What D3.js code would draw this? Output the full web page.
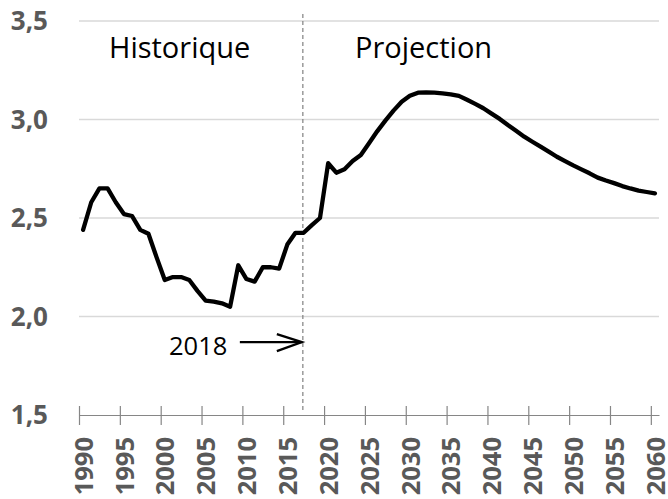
<!DOCTYPE html>
<html>
<head>
<meta charset="utf-8">
<script src="https://cdn.jsdelivr.net/npm/d3@7/dist/d3.min.js"></script>
<style>
    body { margin: 0; background: #fff; }
    svg text { font-family: "Open Sans", sans-serif; }
</style>
</head>
<body>
<div id="chart"></div>
<script>

// categories: one per year
const years = d3.range(1990, 2061);
const tickYears = [1990, 1995, 2000, 2005, 2010, 2015, 2020, 2025, 2030, 2035, 2040, 2045, 2050, 2055, 2060];
const yTicks = [1.5, 2.0, 2.5, 3.0, 3.5];

// observed values 1990-2017
const historique = [2.44, 2.58, 2.65, 2.65, 2.58, 2.52, 2.51, 2.44, 2.42, 2.30,
    2.185, 2.20, 2.20, 2.185, 2.13, 2.08, 2.075, 2.067, 2.05, 2.26,
    2.19, 2.177, 2.25, 2.25, 2.243, 2.365, 2.425, 2.425];

// projected values 2018-2060
const projection = [2.464, 2.50, 2.778, 2.73, 2.747, 2.789, 2.82, 2.879, 2.94, 2.994,
    3.045, 3.09, 3.12, 3.136, 3.138, 3.136, 3.133, 3.128, 3.12, 3.10,
    3.079, 3.057, 3.03, 3.003, 2.972, 2.943, 2.913, 2.887, 2.862, 2.837,
    2.811, 2.789, 2.767, 2.747, 2.727, 2.705, 2.69, 2.677, 2.662, 2.65,
    2.639, 2.632, 2.625];

const sectionLabels = ['Historique', 'Projection'];
const markYear = 2017;      // where the dashed separator sits
const markLabel = '2018';
const arrowValue = 1.87;    // height of the annotation arrow


class LineVis {

    constructor(parentElement) {
        this.parentElement = parentElement;
        this.data = years.map((y, i) => ({year: y, value: historique.concat(projection)[i]}));
        this.initVis();
    }

    initVis() {
        let vis = this;

        vis.margin = {top: 21, right: 9, bottom: 84, left: 79};
        vis.width = 668 - vis.margin.left - vis.margin.right;
        vis.height = 499 - vis.margin.top - vis.margin.bottom;

        vis.svg = d3.select('#' + vis.parentElement).append('svg')
            .attr('width', 668)
            .attr('height', 499)
            .append('g')
            .attr('transform', `translate(${vis.margin.left}, ${vis.margin.top})`);

        // x is a band per year (excel style, ticks between categories)
        vis.x = d3.scaleBand()
            .domain(years)
            .range([0, vis.width])
            .padding(0);
        vis.bw = vis.x.bandwidth();

        vis.y = d3.scaleLinear()
            .domain([1.5, 3.5])
            .range([vis.height, 0]);

        // gridlines
        vis.svg.append('g')
            .selectAll('line')
            .data(yTicks.slice(1))
            .enter().append('line')
            .attr('x1', 0)
            .attr('x2', vis.width)
            .attr('y1', d => vis.y(d))
            .attr('y2', d => vis.y(d))
            .attr('stroke', '#d9d9d9')
            .attr('stroke-width', 1.5);

        // y labels
        vis.svg.append('g')
            .selectAll('text')
            .data(yTicks)
            .enter().append('text')
            .attr('x', -31)
            .attr('y', d => vis.y(d))
            .attr('dy', '0.36em')
            .attr('text-anchor', 'end')
            .style('font-size', '26px')
            .style('font-weight', 'bold')
            .style('fill', '#595959')
            .text(d => d.toFixed(1).replace('.', ','));

        // x axis
        let xTick = d3.scaleLinear()
            .domain([years[0], years[years.length - 1] + 1])
            .range([0, vis.width]);

        vis.xAxis = d3.axisBottom(xTick)
            .tickValues(tickYears)
            .tickSizeInner(10)
            .tickSizeOuter(0)
            .tickFormat(d => d);

        vis.xAxisGroup = vis.svg.append('g')
            .attr('class', 'x-axis axis')
            .attr('transform', `translate(0, ${vis.height})`)
            .call(vis.xAxis);

        vis.xAxisGroup.select('.domain')
            .attr('stroke', '#868686')
            .attr('stroke-width', 1.2);
        vis.xAxisGroup.selectAll('.tick line')
            .attr('y1', -9)
            .attr('stroke', '#868686')
            .attr('stroke-width', 1.2);
        vis.xAxisGroup.selectAll('.tick text')
            .attr('transform', 'rotate(-90)')
            .attr('x', -22)
            .attr('y', vis.bw / 2)
            .attr('dy', '0.36em')
            .attr('text-anchor', 'end')
            .style('font-family', '"Open Sans", sans-serif')
            .style('font-size', '25.5px')
            .style('font-weight', 'bold')
            .style('fill', '#595959');

        // dashed separator
        let markX = vis.x(markYear) + vis.bw / 2 - 0.8;
        vis.svg.append('line')
            .attr('x1', markX).attr('x2', markX)
            .attr('y1', -7).attr('y2', vis.height - 4)
            .attr('stroke', '#808080')
            .attr('stroke-width', 1.2)
            .attr('stroke-dasharray', '4,3');

        // section titles
        vis.svg.append('text')
            .attr('x', 30)
            .attr('y', 37)
            .style('font-size', '29px')
            .style('fill', '#000')
            .text(sectionLabels[0]);

        vis.svg.append('text')
            .attr('x', 276)
            .attr('y', 37)
            .style('font-size', '29px')
            .style('fill', '#000')
            .text(sectionLabels[1]);

        // arrow annotation
        let ay = vis.y(arrowValue);
        vis.svg.append('text')
            .attr('x', 90)
            .attr('y', ay + 13)
            .style('font-size', '25.5px')
            .style('fill', '#000')
            .text(markLabel);

        vis.svg.append('line')
            .attr('x1', markX - 63).attr('x2', markX - 1)
            .attr('y1', ay).attr('y2', ay)
            .attr('stroke', '#000')
            .attr('stroke-width', 2.3);

        vis.svg.append('path')
            .attr('d', `M${markX - 26},${ay - 8}L${markX - 1},${ay}L${markX - 26},${ay + 9}`)
            .attr('fill', 'none')
            .attr('stroke', '#000')
            .attr('stroke-width', 2.3);

        vis.updateVis();
    }

    updateVis() {
        let vis = this;

        let line = d3.line()
            .x(d => vis.x(d.year) + vis.bw / 2)
            .y(d => vis.y(d.value));

        vis.svg.append('path')
            .datum(vis.data)
            .attr('d', line)
            .attr('fill', 'none')
            .attr('stroke', '#000')
            .attr('stroke-width', 4.3)
            .attr('stroke-linejoin', 'round')
            .attr('stroke-linecap', 'round');
    }
}

new LineVis('chart');

</script>
</body>
</html>
